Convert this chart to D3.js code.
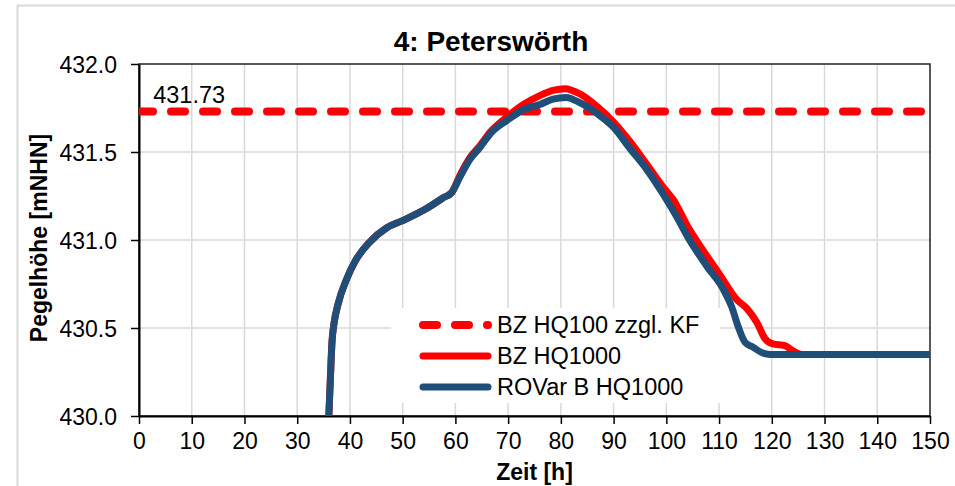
<!DOCTYPE html>
<html>
<head>
<meta charset="utf-8">
<script src="https://cdn.jsdelivr.net/npm/d3@7"></script>
<style>
  body { margin: 0; background: #fff; }
  svg { display: block; font-family: Arial, "Liberation Sans", sans-serif; }
</style>
</head>
<body>
<div id="chart"></div>
<script>
// Werte
const xTicks = [0, 10, 20, 30, 40, 50, 60, 70, 80, 90, 100, 110, 120, 130, 140, 150];
const yTicks = [430.0, 430.5, 431.0, 431.5, 432.0];

const threshold = 431.73;  // BZ HQ100 zzgl. KF

const hoursBz = [36, 36.3, 36.6, 37, 37.7, 39.4, 41, 43.8, 47, 50, 54.6, 57.7, 59.3, 60.9, 62.8,
    64.5, 66.8, 69.8, 72.9, 76, 78.5, 80.8, 83.6, 86.8, 90, 93.1, 96.3, 99.4, 101.3, 104, 107,
    110.2, 113.4, 115.3, 117.2, 118.7, 120.2, 122.5, 124, 125.7, 150];
const levelsBz = [430.00, 430.22, 430.42, 430.53, 430.63, 430.78, 430.88, 430.99, 431.07, 431.11, 431.18, 431.24, 431.27, 431.37, 431.47,
    431.53, 431.62, 431.70, 431.77, 431.82, 431.85, 431.86, 431.83, 431.76, 431.67, 431.56, 431.43, 431.30, 431.23, 431.08, 430.94,
    430.80, 430.66, 430.61, 430.53, 430.44, 430.41, 430.40, 430.37, 430.35, 430.35];

const hoursRov = [36, 36.3, 36.6, 37, 37.7, 39.4, 41, 43.8, 47, 50, 54.6, 57.7, 59.3, 60.9, 62.8,
    64.5, 66.8, 69.8, 72.9, 76, 78.5, 81, 83.6, 86.8, 90, 93.1, 96.3, 99.4, 102, 104, 107.7,
    110.8, 112.4, 113.6, 114.9, 116.5, 118.1, 119.7, 150];
const levelsRov = [430.00, 430.22, 430.42, 430.53, 430.63, 430.78, 430.88, 430.99, 431.07, 431.11, 431.18, 431.24, 431.27, 431.36, 431.46,
    431.52, 431.61, 431.68, 431.74, 431.77, 431.80, 431.81, 431.78, 431.72, 431.64, 431.52, 431.40, 431.26, 431.13, 431.02, 430.85,
    430.72, 430.62, 430.51, 430.42, 430.39, 430.36, 430.35, 430.35];

const RED = '#ff0000';
const BLUE = '#1f4e79';
const GRID = '#d9d9d9';

const width = 955, height = 486;
const margin = { top: 64, right: 25, bottom: 70, left: 139 };
const innerWidth = width - margin.left - margin.right;
const innerHeight = height - margin.top - margin.bottom;

const svg = d3.select('#chart').append('svg')
    .attr('width', width)
    .attr('height', height);

// äußerer Rahmen (läuft rechts und unten aus dem Bild)
svg.append('path')
    .attr('d', `M17.5,${height}V5.5H${width}`)
    .attr('fill', 'none')
    .attr('stroke', GRID)
    .attr('stroke-width', 2);

const g = svg.append('g')
    .attr('transform', `translate(${margin.left},${margin.top})`);

const xScale = d3.scaleLinear().domain([0, 150]).range([0, innerWidth]);
const yScale = d3.scaleLinear().domain([430, 432]).range([innerHeight, 0]);

// Gitter
g.append('g')
    .selectAll('line')
    .data(xTicks.slice(1, -1))
    .join('line')
    .attr('x1', d => xScale(d)).attr('x2', d => xScale(d))
    .attr('y1', 0).attr('y2', innerHeight)
    .attr('stroke', GRID).attr('stroke-width', 1.5);

g.append('g')
    .selectAll('line')
    .data(yTicks.slice(1, -1))
    .join('line')
    .attr('x1', 0).attr('x2', innerWidth)
    .attr('y1', d => yScale(d)).attr('y2', d => yScale(d))
    .attr('stroke', GRID).attr('stroke-width', 1.5);

// Rahmen Diagrammfläche
g.append('rect')
    .attr('width', innerWidth).attr('height', innerHeight)
    .attr('fill', 'none')
    .attr('stroke', '#222')
    .attr('stroke-width', 1.5);

// Achsen
const xAxis = d3.axisBottom(xScale).tickValues(xTicks).tickSize(8).tickSizeOuter(0).tickPadding(6);
const yAxis = d3.axisLeft(yScale).tickValues(yTicks).tickSize(8).tickSizeOuter(0).tickPadding(14)
    .tickFormat(d3.format('.1f'));

const xAxisG = g.append('g')
    .attr('transform', `translate(0,${innerHeight})`)
    .call(xAxis);
const yAxisG = g.append('g').call(yAxis);

[xAxisG, yAxisG].forEach(a => {
    a.attr('font-family', null).attr('font-size', 23);
    a.select('.domain').attr('stroke', '#000').attr('stroke-width', 2);
    a.selectAll('.tick line').attr('stroke', '#000').attr('stroke-width', 1.5);
    a.selectAll('.tick text').attr('fill', '#000');
});
xAxisG.selectAll('.tick text').attr('dy', '0.82em');
yAxisG.selectAll('.tick text').attr('dy', '0.36em');

// Clip
g.append('clipPath').attr('id', 'clip')
    .append('rect').attr('width', innerWidth).attr('height', innerHeight);

const plot = g.append('g').attr('clip-path', 'url(#clip)');

const lineGenerator = d3.line()
    .x(d => xScale(d[0]))
    .y(d => yScale(d[1]))
    .curve(d3.curveMonotoneX);

// Grenzwert gestrichelt
plot.append('line')
    .attr('x1', xScale(0)).attr('x2', xScale(150))
    .attr('y1', yScale(threshold)).attr('y2', yScale(threshold))
    .attr('stroke', RED)
    .attr('stroke-width', 8)
    .attr('stroke-linecap', 'round')
    .attr('stroke-dasharray', '14,18');

plot.append('path')
    .datum(d3.zip(hoursBz, levelsBz))
    .attr('fill', 'none')
    .attr('stroke', RED)
    .attr('stroke-width', 7)
    .attr('stroke-linejoin', 'round')
    .attr('d', lineGenerator);

plot.append('path')
    .datum(d3.zip(hoursRov, levelsRov))
    .attr('fill', 'none')
    .attr('stroke', BLUE)
    .attr('stroke-width', 7)
    .attr('stroke-linejoin', 'round')
    .attr('d', lineGenerator);

g.append('text')
    .attr('x', xScale(2.7))
    .attr('y', yScale(threshold) - 9)
    .attr('font-size', 23.5)
    .text(d3.format('.2f')(threshold));

// Legende
const legendItems = [
    { label: 'BZ HQ100 zzgl. KF', color: RED, dash: '14,18' },
    { label: 'BZ HQ1000', color: RED, dash: null },
    { label: 'ROVar B HQ1000', color: BLUE, dash: null }
];

const legend = svg.append('g').attr('transform', 'translate(391,308)');
legend.append('rect')
    .attr('width', 329).attr('height', 95)
    .attr('fill', '#fff');

const rows = legend.selectAll('g.item')
    .data(legendItems)
    .join('g')
    .attr('class', 'item')
    .attr('transform', (d, i) => `translate(0,${17 + i * 31})`);

rows.append('line')
    .attr('x1', 32).attr('x2', 97)
    .attr('stroke', d => d.color)
    .attr('stroke-width', d => d.dash ? 8 : 7)
    .attr('stroke-linecap', 'round')
    .attr('stroke-dasharray', d => d.dash);

rows.append('text')
    .attr('x', 106)
    .attr('y', 8)
    .attr('font-size', 23.5)
    .text(d => d.label);

// Titel
svg.append('text')
    .attr('x', 491)
    .attr('y', 51)
    .attr('text-anchor', 'middle')
    .attr('font-size', 28)
    .attr('font-weight', 'bold')
    .text('4: Peterswörth');

svg.append('text')
    .attr('x', margin.left + innerWidth / 2)
    .attr('y', 480)
    .attr('text-anchor', 'middle')
    .attr('font-size', 23)
    .attr('font-weight', 'bold')
    .text('Zeit [h]');

svg.append('text')
    .attr('transform', `translate(47,${margin.top + innerHeight / 2 - 2}) rotate(-90)`)
    .attr('text-anchor', 'middle')
    .attr('font-size', 23)
    .attr('font-weight', 'bold')
    .text('Pegelhöhe [mNHN]');
</script>
</body>
</html>
